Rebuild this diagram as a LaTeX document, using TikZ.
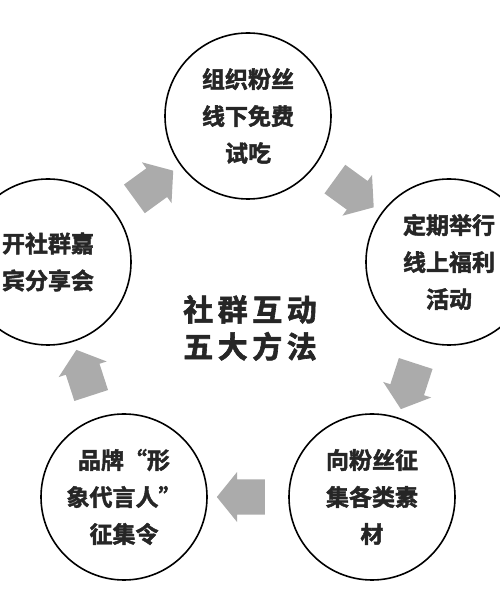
\documentclass[tikz,border=0pt]{standalone}
\usepackage{fontspec}
\setmainfont{Noto Sans CJK SC}[BoldFont={Noto Sans CJK SC Bold}, BoldFeatures={FakeBold=2}]
\usetikzlibrary{shapes.arrows, calc}

\begin{document}
\begin{tikzpicture}[x=1pt, y=1pt,
        way/.style={circle, draw=black, line width=1.6pt, minimum size=166pt, inner sep=0pt,
            align=center, text=black!85, font=\bfseries\fontsize{23}{37}\selectfont},
        push/.style={single arrow, fill=black!33, draw=none, minimum height=48pt,
            inner xsep=0pt, inner ysep=17.5pt, single arrow head extend=7.5pt,
            single arrow tip angle=102}]
        \useasboundingbox (0,0) rectangle (500,600);
        \clip (0,0) rectangle (500,600);
        \node[way] (T)  at (248,484) {组织粉丝\\线下免费\\试吃};
        \node[way] (R)  at (449,338) {定期举行\\线上福利\\活动};
        \node[way] (BR) at (372,103) {向粉丝征\\集各类素\\材};
        \node[way] (BL) at (124,103) {品牌“形\\象代言人”\\征集令};
        \node[way] (L)  at (48,338)  {开社群嘉\\宾分享会};
        \node[align=center, text=black!85, font=\bfseries\fontsize{30}{37}\selectfont\addfontfeature{LetterSpace=15}]
            (M) at (250,272) {社群互动\\五大方法};
        \foreach \a/\b/\r in {L/T/36, T/R/-36, R/BR/252, BR/BL/180, BL/L/108}
            \node[push, rotate=\r] (\a-\b) at ($(\a)!0.5!(\b)$) {};
    \end{tikzpicture}
\end{document}
